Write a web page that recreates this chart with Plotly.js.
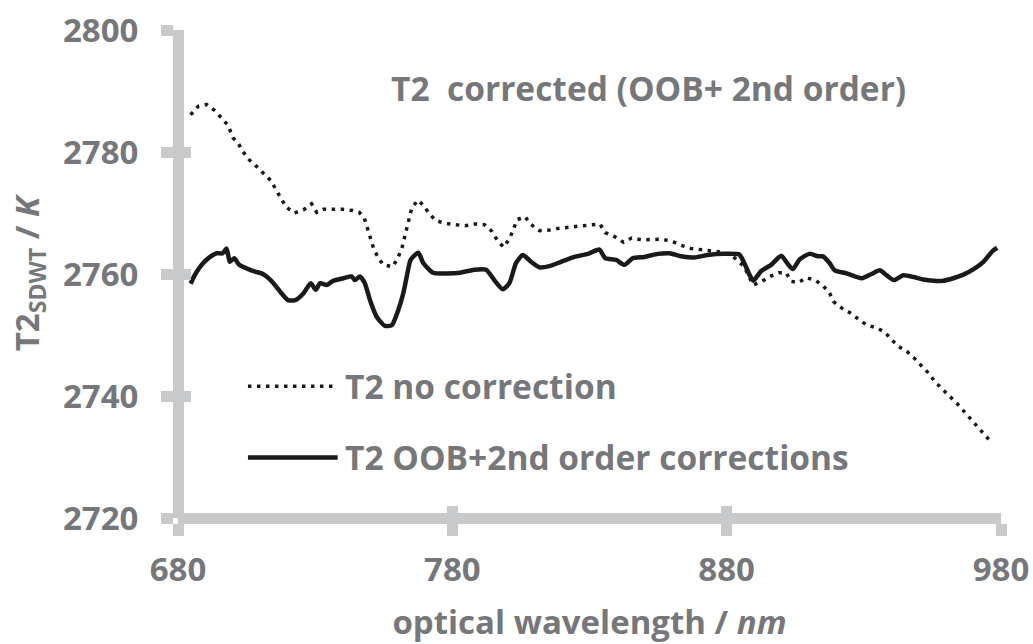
<!DOCTYPE html>
<html>
<head>
<meta charset="utf-8">
<script src="https://cdn.plot.ly/plotly-3.0.1.min.js"></script>
<style>html,body{margin:0;padding:0;background:#fff;}#chart{width:1033px;height:644px;}</style>
</head>
<body>
<div id="chart"></div>
<script>
// ---- data ----
const wlNoCorr = [684.6,687.4,690.4,693.4,695.8,698.2,700.1,701.9,703.6,706.0,708.7,711.4,713.9,715.6,717.4,719.4,722.3,725.7,728.7,730.6,733.0,736.4,740.0,743.7,746.1,747.9,749.1,750.1,751.3,752.8,754.8,758.3,760.1,761.6,762.5,763.5,764.3,765.2,767.4,769.4,771.4,773.8,777.3,781.0,784.6,788.3,791.7,794.4,796.3,798.7,800.9,802.3,803.6,806.5,808.7,811.8,815.4,819.0,822.7,826.3,830.2,833.8,835.7,839.3,842.4,845.4,849.0,852.7,856.3,859.9,863.4,866.8,870.4,874.0,877.7,882.0,886.4,889.6,892.5,895.8,899.0,901.7,903.5,906.1,909.2,912.6,915.3,917.5,918.9,922.0,925.1,928.0,931.2,934.6,937.8,940.2,942.7,945.7,948.4,951.1,953.7,956.0,958.5,961.2,963.9,966.3,968.8,971.3,973.7,976.1];
const t2NoCorr = [2786.1,2787.5,2787.8,2786.8,2785.6,2784.4,2782.3,2781.5,2780.1,2778.7,2777.6,2776.3,2775.3,2773.9,2772.4,2771.0,2770.0,2770.5,2771.5,2770.1,2770.6,2770.6,2770.6,2770.4,2770.1,2769.2,2767.5,2765.9,2764.2,2762.8,2761.5,2761.2,2762.6,2764.2,2765.9,2767.5,2769.2,2770.8,2772.1,2771.3,2770.0,2768.8,2768.3,2768.1,2767.9,2768.2,2768.1,2767.0,2765.6,2764.4,2765.8,2767.4,2768.9,2769.4,2768.1,2767.1,2767.2,2767.5,2767.7,2767.9,2768.1,2768.2,2766.8,2766.1,2765.2,2765.9,2765.6,2765.6,2765.7,2765.4,2764.7,2764.2,2764.0,2763.8,2763.6,2763.0,2761.2,2758.2,2758.7,2759.6,2760.2,2760.2,2758.8,2758.6,2759.4,2758.9,2758.0,2756.9,2755.5,2754.4,2753.6,2752.6,2751.6,2751.2,2750.4,2749.2,2748.1,2747.3,2746.2,2744.9,2743.7,2742.3,2741.1,2740.0,2738.8,2737.6,2736.3,2735.1,2733.9,2732.6];

const wlCorr = [684.6,686.2,688.6,691.1,694.1,696.3,697.7,698.9,700.5,702.3,705.6,708.1,710.5,712.3,714.8,717.8,720.2,722.7,725.7,728.4,730.2,731.8,734.2,736.6,740.3,743.3,744.5,746.3,748.1,750.0,752.4,755.4,757.9,760.3,762.1,763.4,764.8,767.6,769.4,773.0,777.9,782.8,788.0,792.3,795.3,798.4,800.8,803.2,805.7,808.7,811.8,815.4,819.6,824.5,829.4,833.6,835.7,839.7,842.7,845.8,850.0,854.9,859.1,863.4,868.2,873.1,879.2,884.6,886.4,888.3,889.7,892.6,896.2,899.9,901.7,904.1,906.6,910.2,913.3,915.1,917.5,919.4,923.7,929.2,932.8,935.8,938.3,941.0,944.4,948.1,951.7,955.4,959.0,962.6,966.3,970.0,973.6,977.0,978.6];
const t2Corr = [2758.4,2759.9,2761.5,2762.6,2763.4,2763.4,2764.2,2762.0,2762.6,2761.5,2760.8,2760.4,2760.1,2759.6,2758.5,2756.8,2755.7,2755.7,2756.8,2758.5,2757.4,2758.5,2758.2,2758.9,2759.3,2759.6,2759.0,2759.6,2758.5,2755.7,2753.0,2751.5,2751.6,2754.1,2756.8,2759.6,2762.3,2763.5,2761.8,2760.2,2760.1,2760.2,2760.7,2760.7,2759.0,2757.5,2758.5,2761.8,2763.1,2762.0,2761.1,2761.3,2762.0,2762.8,2763.3,2764.0,2762.6,2762.3,2761.5,2762.6,2762.8,2763.3,2763.4,2762.9,2762.7,2763.1,2763.3,2763.2,2761.8,2759.9,2758.9,2760.5,2761.5,2763.0,2762.0,2760.8,2762.4,2763.3,2762.9,2762.9,2761.8,2760.6,2760.1,2759.3,2760.0,2760.6,2759.8,2759.0,2759.8,2759.5,2759.1,2758.9,2758.9,2759.3,2759.9,2760.8,2762.0,2763.8,2764.3];

const xTicks = [680, 780, 880, 980];
const yTicks = [2720, 2740, 2760, 2780, 2800];
const seriesNames = ['T2 no correction', 'T2 OOB+2nd order corrections'];
const insideTitle = 'T2\u00a0\u00a0corrected (OOB+ 2nd order)';

// ---- styling ----
const FONT = 'Open Sans, Lato, sans-serif';
const GREY = '#76777a';
const AX = '#c8c9cb';
const DOT = '3.5px,5.5px';
const tickFont = {family: FONT, size: 33, color: GREY, weight: 700};
const annFont = {family: FONT, size: 33.5, color: GREY, weight: 700};

const traces = [
  {x: wlNoCorr, y: t2NoCorr, xaxis: 'x2', yaxis: 'y2', name: seriesNames[0], mode: 'lines',
   line: {color: '#1a1a1a', width: 3.5, dash: DOT}, showlegend: false, hoverinfo: 'skip'},
  {x: wlCorr, y: t2Corr, xaxis: 'x', yaxis: 'y', name: seriesNames[1], mode: 'lines',
   line: {color: '#1a1a1a', width: 4.5, shape: 'spline', smoothing: 0.6}, showlegend: false, hoverinfo: 'skip'}
];

const common = {showgrid: false, zeroline: false, tickcolor: AX, tickwidth: 11, ticklen: 12, tickmode: 'array'};

const layout = {
  width: 1033, height: 644,
  margin: {l: 178, r: 32, t: 30, b: 126},
  paper_bgcolor: '#fff', plot_bgcolor: '#fff',
  showlegend: false,
  xaxis: Object.assign({}, common, {
    range: [680, 980], tickvals: xTicks, ticktext: xTicks.map(String),
    anchor: 'free', position: 0,
    showline: true, linecolor: AX, linewidth: 11, ticks: 'outside',
    tickfont: tickFont, ticklabelstandoff: 5,
    title: {text: 'optical wavelength / <i>nm</i>', font: tickFont, standoff: 30}
  }),
  yaxis: Object.assign({}, common, {
    range: [2720, 2800], tickvals: yTicks, ticktext: yTicks.map(String),
    anchor: 'free', position: 0,
    showline: true, linecolor: AX, linewidth: 11, ticks: 'outside',
    tickfont: tickFont, ticklabelstandoff: 16,
    title: {text: 'T2<sub>SDWT</sub> / <i>K</i>', font: tickFont, standoff: 12}
  }),
  xaxis2: Object.assign({}, common, {
    overlaying: 'x', matches: 'x', anchor: 'free', position: 0, side: 'bottom',
    tickvals: xTicks, showticklabels: false, showline: false, ticks: 'inside'
  }),
  yaxis2: Object.assign({}, common, {
    overlaying: 'y', matches: 'y', anchor: 'free', position: 0, side: 'left',
    tickvals: yTicks, showticklabels: false, showline: false, ticks: 'inside'
  }),
  annotations: [
    {xref: 'paper', yref: 'paper', x: 0.572, y: 0.882, text: insideTitle, showarrow: false,
     xanchor: 'center', yanchor: 'middle', font: annFont},
    {xref: 'paper', yref: 'paper', x: 0.2005, y: 0.270, text: seriesNames[0], showarrow: false,
     xanchor: 'left', yanchor: 'middle', font: annFont},
    {xref: 'paper', yref: 'paper', x: 0.2005, y: 0.124, text: seriesNames[1], showarrow: false,
     xanchor: 'left', yanchor: 'middle', font: annFont}
  ],
  shapes: [
    {type: 'line', xref: 'paper', yref: 'paper', x0: 0.085, x1: 0.194, y0: 0.270, y1: 0.270,
     line: {color: '#1a1a1a', width: 3.5, dash: DOT}},
    {type: 'line', xref: 'paper', yref: 'paper', x0: 0.085, x1: 0.194, y0: 0.124, y1: 0.124,
     line: {color: '#1a1a1a', width: 4.5}}
  ]
};

Plotly.newPlot('chart', traces, layout, {staticPlot: true, displayModeBar: false});
</script>
</body>
</html>
